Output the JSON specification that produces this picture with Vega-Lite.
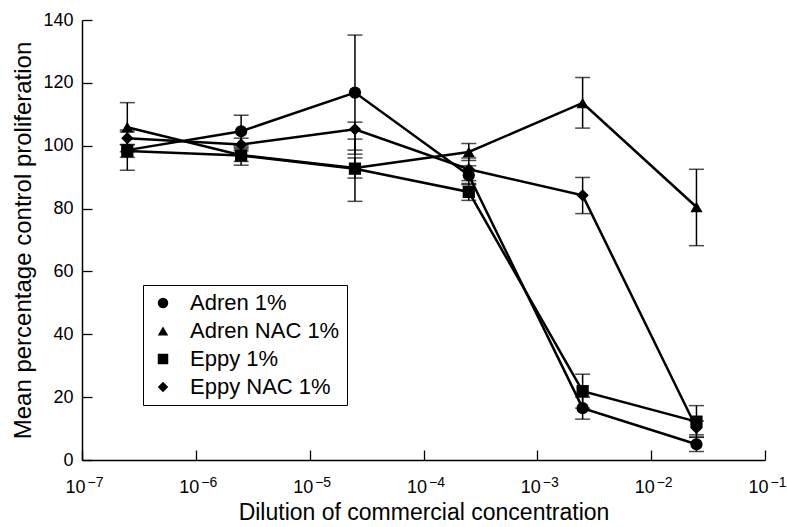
{
  "$schema": "https://vega.github.io/schema/vega-lite/v6.json",
  "width": 683,
  "height": 440,
  "autosize": {"type": "none"},
  "padding": {"left": 82, "top": 20, "right": 22, "bottom": 67},
  "background": "white",
  "config": {
    "view": {"stroke": null},
    "font": "Liberation Sans",
    "axis": {"domainColor": "black", "domainWidth": 1.5, "tickColor": "black", "tickWidth": 1.3, "labelColor": "black", "titleColor": "black", "grid": false, "labelFont": "Liberation Sans", "titleFont": "Liberation Sans", "titleFontWeight": "normal"}
  },
  "resolve": {"axis": {"x": "independent"}},
  "data": {
    "values": [
      {"dil": 2.5e-7, "series": "Adren 1%", "mean": 98.6, "lo": 92.2, "hi": 105.0},
      {"dil": 2.5e-6, "series": "Adren 1%", "mean": 104.6, "lo": 99.5, "hi": 109.7},
      {"dil": 2.5e-5, "series": "Adren 1%", "mean": 116.9, "lo": 98.6, "hi": 135.2},
      {"dil": 2.5e-4, "series": "Adren 1%", "mean": 90.6, "lo": 87.6, "hi": 93.6},
      {"dil": 2.5e-3, "series": "Adren 1%", "mean": 16.5, "lo": 13.0, "hi": 20.0},
      {"dil": 2.5e-2, "series": "Adren 1%", "mean": 5.0, "lo": 2.7, "hi": 7.3},
      {"dil": 2.5e-7, "series": "Adren NAC 1%", "mean": 105.9, "lo": 98.1, "hi": 113.7},
      {"dil": 2.5e-6, "series": "Adren NAC 1%", "mean": 97.0, "lo": 95.0, "hi": 99.0},
      {"dil": 2.5e-5, "series": "Adren NAC 1%", "mean": 92.9, "lo": 89.7, "hi": 96.1},
      {"dil": 2.5e-4, "series": "Adren NAC 1%", "mean": 98.0, "lo": 95.3, "hi": 100.7},
      {"dil": 2.5e-3, "series": "Adren NAC 1%", "mean": 113.6, "lo": 105.6, "hi": 121.7},
      {"dil": 2.5e-2, "series": "Adren NAC 1%", "mean": 80.5, "lo": 68.2, "hi": 92.5},
      {"dil": 2.5e-7, "series": "Eppy 1%", "mean": 98.3, "lo": 96.3, "hi": 100.3},
      {"dil": 2.5e-6, "series": "Eppy 1%", "mean": 96.9, "lo": 93.8, "hi": 100.0},
      {"dil": 2.5e-5, "series": "Eppy 1%", "mean": 92.7, "lo": 82.3, "hi": 102.1},
      {"dil": 2.5e-4, "series": "Eppy 1%", "mean": 85.3, "lo": 82.6, "hi": 88.0},
      {"dil": 2.5e-3, "series": "Eppy 1%", "mean": 21.9, "lo": 16.5, "hi": 27.3},
      {"dil": 2.5e-2, "series": "Eppy 1%", "mean": 12.2, "lo": 7.2, "hi": 17.3},
      {"dil": 2.5e-7, "series": "Eppy NAC 1%", "mean": 102.4, "lo": 100.4, "hi": 104.4},
      {"dil": 2.5e-6, "series": "Eppy NAC 1%", "mean": 100.4, "lo": 98.4, "hi": 102.4},
      {"dil": 2.5e-5, "series": "Eppy NAC 1%", "mean": 105.2, "lo": 97.3, "hi": 107.5},
      {"dil": 2.5e-4, "series": "Eppy NAC 1%", "mean": 92.5, "lo": 88.9, "hi": 96.1},
      {"dil": 2.5e-3, "series": "Eppy NAC 1%", "mean": 84.2, "lo": 78.4, "hi": 89.9},
      {"dil": 2.5e-2, "series": "Eppy NAC 1%", "mean": 10.2, "lo": 8.0, "hi": 12.4}
    ]
  },
  "layer": [
    {
      "mark": {"type": "rule", "color": "black", "strokeWidth": 1.5},
      "encoding": {
        "x": {
          "field": "dil", "type": "quantitative",
          "scale": {"type": "log", "domain": [1e-7, 0.1], "nice": false},
          "axis": {
            "orient": "bottom", "title": null, "domain": false, "ticks": false,
            "values": [1e-7, 1e-6, 1e-5, 1e-4, 1e-3, 1e-2, 1e-1],
            "labelExpr": "'−' + format(-round(log(datum.value)/LN10), 'd')",
            "labelFontSize": 14, "labelPadding": 15, "labelOffset": 13, "labelFlush": false, "labelOverlap": false
          }
        },
        "y": {"field": "lo", "type": "quantitative"}, "y2": {"field": "hi"}, "detail": {"field": "series"}
      }
    },
    {
      "mark": {"type": "tick", "orient": "horizontal", "color": "black", "size": 15, "thickness": 1.5},
      "encoding": {"x": {"field": "dil", "type": "quantitative", "axis": null}, "y": {"field": "lo", "type": "quantitative"}, "detail": {"field": "series"}}
    },
    {
      "mark": {"type": "tick", "orient": "horizontal", "color": "black", "size": 15, "thickness": 1.5},
      "encoding": {"x": {"field": "dil", "type": "quantitative", "axis": null}, "y": {"field": "hi", "type": "quantitative"}, "detail": {"field": "series"}}
    },
    {
      "mark": {"type": "line", "color": "black", "strokeWidth": 2.5},
      "encoding": {"x": {"field": "dil", "type": "quantitative", "axis": null}, "y": {"field": "mean", "type": "quantitative"}, "detail": {"field": "series"}}
    },
    {
      "mark": {"type": "point", "filled": true, "color": "black", "opacity": 1, "size": 150},
      "encoding": {
        "x": {
          "field": "dil", "type": "quantitative",
          "axis": {
            "orient": "bottom",
            "title": "Dilution of commercial concentration",
            "titleFontSize": 23, "titlePadding": 5,
            "values": [1e-7, 1e-6, 1e-5, 1e-4, 1e-3, 1e-2, 1e-1],
            "labelExpr": "'10'",
            "labelFontSize": 18, "labelPadding": 28, "labelOffset": -7, "tickSize": -10, "labelFlush": false, "labelOverlap": false
          }
        },
        "y": {
          "field": "mean", "type": "quantitative",
          "scale": {"domain": [0, 140], "nice": false},
          "axis": {"title": "Mean percentage control proliferation", "titleFontSize": 24, "titlePadding": 7, "values": [0, 20, 40, 60, 80, 100, 120, 140], "labelFontSize": 18, "labelPadding": 19, "tickSize": -10}
        },
        "shape": {
          "field": "series", "type": "nominal",
          "scale": {"domain": ["Adren 1%", "Adren NAC 1%", "Eppy 1%", "Eppy NAC 1%"], "range": ["circle", "triangle-up", "square", "diamond"]},
          "legend": {
            "title": null, "orient": "none", "legendX": 61, "legendY": 265,
            "labelFontSize": 22, "labelColor": "black", "symbolSize": 110, "symbolFillColor": "black", "symbolStrokeColor": "black",
            "strokeColor": "black", "fillColor": "white", "padding": 7, "rowPadding": 6, "labelOffset": 16, "symbolOffset": 2
          }
        }
      }
    }
  ]
}
